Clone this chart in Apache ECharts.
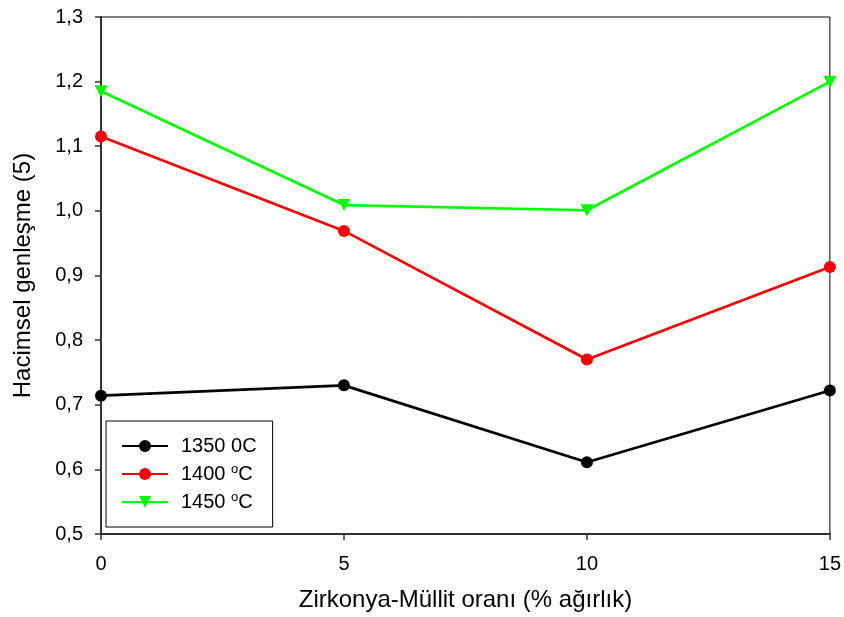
<!DOCTYPE html>
<html>
<head>
<meta charset="utf-8">
<script src="https://cdn.jsdelivr.net/npm/echarts@6/dist/echarts.min.js"></script>
<style>
  html, body { margin: 0; padding: 0; background: #fff; }
  #chart { width: 844px; height: 617px; }
</style>
</head>
<body>
<div id="chart"></div>
<script>
// Zirkonya-Müllit oranı (% ağırlık)
const ratios = [0, 5, 10, 15];
// Hacimsel genleşme by sintering temperature
const exp1350 = [0.714, 0.730, 0.611, 0.722];
const exp1400 = [1.115, 0.969, 0.770, 0.913];
const exp1450 = [1.185, 1.009, 1.001, 1.200];
const seriesNames = ['1350 0C', '1400 oC', '1450 oC'];
const legendLabels = ['1350 0C', '1400 {sup|o}C', '1450 {sup|o}C'];

const FONT = 'Liberation Sans, Arial, sans-serif';

function pairs(vals) {
  return ratios.map((r, i) => [r, vals[i]]);
}

const chart = echarts.init(document.getElementById('chart'));
chart.setOption({
  backgroundColor: '#fff',
  animation: false,
  grid: {
    left: 101, right: 14, top: 17, bottom: 81,
    show: true, borderColor: '#000', borderWidth: 1
  },
  legend: {
    orient: 'vertical',
    left: 106, top: 421,
    padding: [15, 16, 15, 15],
    borderColor: '#000', borderWidth: 1,
    itemWidth: 46, itemHeight: 15, itemGap: 7,
    data: seriesNames,
    formatter: name => legendLabels[seriesNames.indexOf(name)],
    textStyle: {
      fontFamily: FONT, fontSize: 20, color: '#000',
      lineHeight: 20, padding: [0, 0, 0, 8],
      rich: {
        sup: { fontFamily: FONT, fontSize: 13, color: '#000', padding: [0, 0, 9, 0] }
      }
    }
  },
  xAxis: {
    type: 'value', min: 0, max: 15, interval: 5,
    name: 'Zirkonya-Müllit oranı (% ağırlık)',
    nameLocation: 'middle', nameGap: 54,
    nameTextStyle: { fontFamily: FONT, fontSize: 24, color: '#000' },
    axisLine: { show: true, lineStyle: { color: '#333', width: 2 } },
    axisTick: { show: true, length: 6, lineStyle: { color: '#333', width: 1.5 } },
    axisLabel: { fontFamily: FONT, fontSize: 20, color: '#000', margin: 20 },
    splitLine: { show: false }
  },
  yAxis: {
    type: 'value', min: 0.5, max: 1.3, interval: 0.1,
    name: 'Hacimsel genleşme (5)',
    nameLocation: 'middle', nameGap: 66,
    nameTextStyle: { fontFamily: FONT, fontSize: 24, color: '#000' },
    axisLine: { show: true, lineStyle: { color: '#333', width: 2 } },
    axisTick: { show: true, length: 6, lineStyle: { color: '#333', width: 1.5 } },
    axisLabel: {
      fontFamily: FONT, fontSize: 20, color: '#000', margin: 18,
      formatter: v => v.toFixed(1).replace('.', ',')
    },
    splitLine: { show: false }
  },
  series: [
    {
      name: seriesNames[0], type: 'line', data: pairs(exp1350),
      symbol: 'circle', symbolSize: 12,
      lineStyle: { color: '#000', width: 2.7 },
      itemStyle: { color: '#000' }
    },
    {
      name: seriesNames[1], type: 'line', data: pairs(exp1400),
      symbol: 'circle', symbolSize: 12,
      lineStyle: { color: '#ff0000', width: 2.7 },
      itemStyle: { color: '#ff0000' }
    },
    {
      name: seriesNames[2], type: 'line', data: pairs(exp1450),
      symbol: 'triangle', symbolRotate: 180, symbolSize: [13, 12],
      lineStyle: { color: '#00ff00', width: 2.7 },
      itemStyle: { color: '#00ff00' }
    }
  ]
});
</script>
</body>
</html>
